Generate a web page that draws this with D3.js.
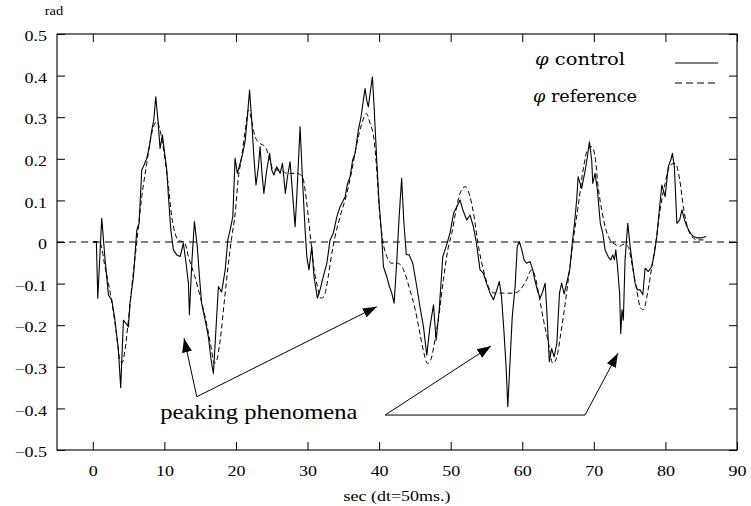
<!DOCTYPE html>
<html>
<head>
<meta charset="utf-8">
<script src="https://cdn.jsdelivr.net/npm/d3@7"></script>
<style>
  html, body { margin: 0; padding: 0; background: #fff; }
  svg { display: block; }
</style>
</head>
<body>
<div id="chart"></div>
<script>
// ---------------- data ----------------
const controlT = [0.0,0.5,0.7,1.25,1.72,2.18,2.65,3.1,3.58,3.9,4.28,4.65,4.98,5.2,5.68,6.15,6.47,6.84,7.17,7.54,7.9,8.24,8.52,8.8,9.1,9.4,9.73,10.0,10.34,10.57,10.9,11.26,11.73,12.2,12.66,13.03,13.36,13.5,13.83,14.2,14.6,14.9,15.2,15.7,16.15,16.5,16.85,17.2,17.55,18.0,18.5,18.86,19.2,19.56,19.88,20.2,20.58,20.95,21.3,21.6,21.9,22.2,22.5,22.8,23.14,23.37,23.6,23.9,24.3,24.7,25.0,25.3,25.7,26.17,26.5,26.9,27.2,27.56,27.8,28.26,28.5,28.96,29.3,29.66,29.9,30.2,30.6,30.9,31.38,31.75,32.2,32.7,33.15,33.6,34.1,34.55,35.25,35.6,35.95,36.3,36.65,37.1,37.48,37.8,38.04,38.27,38.5,38.74,39.06,39.3,39.67,40.0,40.37,40.6,41.07,41.44,41.77,42.1,42.45,42.8,43.15,43.45,43.8,44.2,44.7,45.26,45.7,46.2,46.66,47.1,47.6,47.96,48.4,48.9,49.36,49.9,50.4,50.85,51.3,51.7,52.25,52.7,53.17,53.6,54.1,54.55,55.0,55.5,55.97,56.44,56.8,57.1,57.46,57.74,57.98,58.3,58.6,59.0,59.3,59.6,59.93,60.26,60.6,61.1,61.47,61.8,62.17,62.5,62.86,63.2,63.4,63.78,64.1,64.45,64.83,65.2,65.5,65.85,66.2,66.65,67.0,67.3,67.6,67.8,68.3,68.8,69.1,69.38,69.7,69.85,70.17,70.5,70.9,71.25,71.57,72.0,72.37,72.64,72.87,73.07,73.3,73.6,73.76,73.94,74.12,74.36,74.74,75.07,75.44,75.76,76.1,76.46,76.84,77.16,77.6,78.1,78.46,78.8,79.1,79.5,79.96,80.4,80.75,80.97,81.25,81.6,82.0,82.3,82.67,83.0,83.5,83.9,84.4,85.1,85.7];
const controlV = [0,0,-0.135,0.057,-0.043,-0.127,-0.139,-0.188,-0.26,-0.35,-0.188,-0.196,-0.204,-0.147,-0.083,0.029,0.045,0.173,0.185,0.201,0.229,0.269,0.293,0.349,0.293,0.225,0.257,0.219,0.173,0.109,0.029,-0.019,-0.031,-0.035,-0.003,-0.051,-0.099,-0.175,-0.051,0.049,-0.011,-0.083,-0.147,-0.188,-0.228,-0.28,-0.316,-0.212,-0.107,-0.12,-0.067,0.005,0.03,0.061,0.201,0.165,0.189,0.213,0.245,0.301,0.365,0.293,0.205,0.137,0.181,0.229,0.173,0.117,0.173,0.213,0.173,0.161,0.181,0.165,0.189,0.117,0.157,0.193,0.141,0.037,0.109,0.277,0.149,0.029,-0.035,-0.067,-0.011,-0.083,-0.135,-0.115,-0.083,-0.051,0.005,0.021,0.061,0.085,0.109,0.141,0.157,0.197,0.213,0.269,0.301,0.341,0.369,0.341,0.325,0.357,0.397,0.325,0.197,0.093,0.013,-0.059,-0.083,-0.107,-0.123,-0.147,-0.051,0.061,0.153,0.05,-0.03,-0.031,-0.051,-0.107,-0.155,-0.204,-0.272,-0.204,-0.151,-0.236,-0.163,-0.035,-0.011,0.021,0.069,0.085,0.101,0.077,0.053,0.065,0.037,-0.003,-0.067,-0.075,-0.099,-0.123,-0.139,-0.115,-0.095,-0.131,-0.22,-0.3,-0.396,-0.284,-0.18,-0.107,-0.011,0.001,-0.019,-0.043,-0.051,-0.047,-0.067,-0.095,-0.119,-0.135,-0.119,-0.099,-0.155,-0.288,-0.256,-0.276,-0.244,-0.123,-0.099,-0.125,-0.099,-0.065,0.0,0.045,0.101,0.157,0.129,0.173,0.205,0.241,0.197,0.141,0.165,0.125,0.045,0.021,-0.019,-0.035,-0.043,-0.031,-0.043,-0.019,-0.059,-0.123,-0.22,-0.163,-0.188,-0.043,0.045,-0.011,-0.059,-0.099,-0.115,-0.115,-0.127,-0.063,-0.071,-0.059,-0.027,0.013,0.069,0.137,0.109,0.181,0.197,0.213,0.181,0.045,0.053,0.077,0.053,0.037,0.021,0.013,0.01,0.01,0.013];

const refT = [0,0.8,1.2,1.6,2.2,2.8,3.3,3.8,4.1,4.5,4.9,5.45,6.15,6.84,7.54,8.0,8.47,8.94,9.4,9.96,10.57,11.03,11.5,12.0,12.8,13.36,14.2,15.0,15.9,16.6,16.95,17.3,17.8,18.35,18.95,19.4,19.9,20.3,20.8,21.3,21.74,22.07,22.67,23.37,24.07,24.77,25.2,26.2,27.1,28.5,29.3,29.66,30.0,30.45,30.8,31.38,31.85,32.3,32.9,33.4,33.85,34.55,35.5,36.2,36.9,37.6,38.2,38.74,39.3,39.67,40.0,40.5,41.07,41.77,42.45,43.0,43.6,44.3,45.05,45.7,46.28,46.75,47.2,47.8,48.4,48.98,49.6,50.15,50.75,51.3,52.0,52.7,53.27,53.73,54.35,54.95,55.5,56.2,57.4,58.8,59.7,60.6,61.3,61.8,62.27,62.97,63.67,64.27,64.83,65.38,65.98,66.6,67.17,67.84,68.5,69.2,69.7,70.17,70.6,71.1,71.7,72.27,72.9,73.6,74.2,74.8,75.3,75.9,76.46,76.9,77.5,78.1,78.7,79.25,79.96,80.66,81.36,82.0,82.5,83.06,83.7,84.5,85.7];
const refV = [0,0,-0.01,-0.05,-0.1,-0.16,-0.22,-0.284,-0.29,-0.26,-0.2,-0.107,0.0,0.109,0.189,0.24,0.277,0.289,0.269,0.213,0.133,0.061,0.021,0.003,0.0,-0.035,-0.08,-0.131,-0.196,-0.26,-0.292,-0.285,-0.236,-0.147,-0.051,0.01,0.07,0.149,0.205,0.269,0.317,0.301,0.253,0.237,0.229,0.197,0.173,0.173,0.165,0.165,0.157,0.125,0.077,0.005,-0.051,-0.107,-0.135,-0.131,-0.083,-0.027,0.013,0.061,0.117,0.173,0.237,0.285,0.309,0.285,0.245,0.173,0.085,0.005,-0.035,-0.051,-0.051,-0.055,-0.075,-0.115,-0.163,-0.22,-0.268,-0.292,-0.284,-0.236,-0.171,-0.091,-0.019,0.021,0.077,0.117,0.133,0.109,0.061,0.005,-0.051,-0.091,-0.115,-0.123,-0.123,-0.123,-0.115,-0.091,-0.067,-0.083,-0.123,-0.188,-0.244,-0.292,-0.276,-0.22,-0.15,-0.067,0.01,0.09,0.173,0.225,0.229,0.205,0.133,0.077,0.029,0.005,-0.005,-0.01,-0.005,-0.011,-0.051,-0.107,-0.155,-0.163,-0.123,-0.059,0.005,0.077,0.141,0.185,0.189,0.149,0.085,0.037,0.013,0.005,0.005];

const xTicks = [0,10,20,30,40,50,60,70,80,90];
const yTicks = [-0.5,-0.4,-0.3,-0.2,-0.1,0,0.1,0.2,0.3,0.4,0.5];
const seriesNames = ["control", "reference"];

// annotation: arrows (data coordinates) and label
const arrowCorners = [[14.53,-0.372],[40.84,-0.416],[68.77,-0.416]];
const arrowTips = [[12.75,-0.2315],[39.68,-0.1555],[55.64,-0.25],[73.36,-0.2675]];
const annotText = "peaking phenomena";

// ---------------- layout ----------------
const W = 751, H = 506;
const margin = {left: 57, right: 14, top: 34, bottom: 56};
const iw = W - margin.left - margin.right;
const ih = H - margin.top - margin.bottom;
const SX = 1.2; // horizontal stretch of the text in the reference

const svg = d3.select("#chart").append("svg")
  .attr("width", W).attr("height", H)
  .style("background", "#fff");

svg.append("defs").append("marker")
  .attr("id", "ah").attr("markerUnits", "userSpaceOnUse")
  .attr("viewBox", "0 0 14 10").attr("refX", 14).attr("refY", 5)
  .attr("markerWidth", 14).attr("markerHeight", 10).attr("orient", "auto")
  .append("path").attr("d", "M0,0 L14,5 L0,10 Z").attr("fill", "#000");

const g = svg.append("g").attr("transform", `translate(${margin.left},${margin.top})`);

const x = d3.scaleLinear().domain([-5, 90]).range([0, iw]);
const y = d3.scaleLinear().domain([-0.5, 0.5]).range([ih, 0]);

const serif = "'Liberation Serif','Times New Roman',Times,serif";
const fmt = d => d === 0 ? "0" : d3.format(".1f")(d).replace("-", "\u2212");

// axes
const gl = g.append("g").call(d3.axisLeft(y).tickValues(yTicks).tickSize(-8).tickPadding(0).tickFormat(fmt));
const gb = g.append("g").attr("transform", `translate(0,${ih})`)
  .call(d3.axisBottom(x).tickValues(xTicks).tickSize(-8).tickPadding(15).tickFormat(d3.format("d")));
const gt = g.append("g").call(d3.axisTop(x).tickValues(xTicks).tickSize(-8).tickFormat(""));
const gr = g.append("g").attr("transform", `translate(${iw},0)`)
  .call(d3.axisRight(y).tickValues(yTicks).tickSize(-8).tickFormat(""));

[gl, gb, gt, gr].forEach(a => {
  a.select(".domain").remove();
  a.selectAll(".tick line").attr("stroke", "#000").attr("stroke-width", 1);
});
gl.selectAll(".tick text")
  .attr("x", -10 / SX).attr("dy", "0.45em")
  .attr("transform", `scale(${SX},1)`)
  .style("font-family", serif).style("font-size", "15px").attr("fill", "#000");
gb.selectAll(".tick text")
  .attr("transform", `scale(${SX},1)`)
  .style("font-family", serif).style("font-size", "15px").attr("fill", "#000");

// frame
g.append("rect").attr("width", iw).attr("height", ih)
  .attr("fill", "none").attr("stroke", "#000").attr("stroke-width", 1.1);

// zero line
g.append("line")
  .attr("x1", x(-5)).attr("x2", x(90)).attr("y1", y(0)).attr("y2", y(0))
  .attr("stroke", "#000").attr("stroke-width", 1).attr("stroke-dasharray", "7,5");

// curves
const controlData = controlT.map((t, i) => [t, controlV[i]]);
const refData = refT.map((t, i) => [t, refV[i]]);

g.append("path").datum(refData)
  .attr("fill", "none").attr("stroke", "#000").attr("stroke-width", 1)
  .attr("stroke-dasharray", "5,3")
  .attr("d", d3.line().x(d => x(d[0])).y(d => y(d[1])).curve(d3.curveMonotoneX));

g.append("path").datum(controlData)
  .attr("fill", "none").attr("stroke", "#000").attr("stroke-width", 1.1)
  .attr("stroke-linejoin", "round")
  .attr("d", d3.line().x(d => x(d[0])).y(d => y(d[1])));

// annotations
const segs = [
  [arrowCorners[0], arrowTips[0]],
  [arrowCorners[0], arrowTips[1]],
  [arrowCorners[1], arrowTips[2]],
  [arrowCorners[2], arrowTips[3]]
];
segs.forEach(([a, b]) => {
  g.append("line")
    .attr("x1", x(a[0])).attr("y1", y(a[1]))
    .attr("x2", x(b[0])).attr("y2", y(b[1]))
    .attr("stroke", "#000").attr("stroke-width", 1)
    .attr("marker-end", "url(#ah)");
});
g.append("line")
  .attr("x1", x(arrowCorners[1][0])).attr("y1", y(arrowCorners[1][1]))
  .attr("x2", x(arrowCorners[2][0])).attr("y2", y(arrowCorners[2][1]))
  .attr("stroke", "#000").attr("stroke-width", 1);

g.append("text")
  .attr("transform", `translate(${x(9.43)},${y(-0.426)}) scale(1.17,1)`)
  .style("font-family", serif).style("font-size", "21px").attr("fill", "#000")
  .text(annotText);

// legend
const legFont = "'DejaVu Serif','Liberation Serif',serif";
const legRows = [
  {name: seriesNames[0], tx: 535 - margin.left, ty: 65 - margin.top, ly: 63 - margin.top, w: 90, dash: null},
  {name: seriesNames[1], tx: 533 - margin.left, ty: 102 - margin.top, ly: 83 - margin.top, w: 104, dash: "7,4"}
];
legRows.forEach(r => {
  const t = g.append("text").attr("x", r.tx).attr("y", r.ty)
    .attr("textLength", r.w).attr("lengthAdjust", "spacingAndGlyphs")
    .style("font-family", legFont).style("font-size", "16px").attr("fill", "#000");
  t.append("tspan").style("font-style", "italic").text("\u03C6");
  t.append("tspan").text(" " + r.name);
  g.append("line").attr("x1", 675 - margin.left).attr("x2", 718 - margin.left)
    .attr("y1", r.ly).attr("y2", r.ly)
    .attr("stroke", "#000").attr("stroke-width", 1)
    .attr("stroke-dasharray", r.dash);
});

// axis titles
svg.append("text")
  .attr("transform", `translate(54,15) scale(${SX},1)`)
  .attr("text-anchor", "middle")
  .style("font-family", serif).style("font-size", "12px").attr("fill", "#000")
  .text("rad");
svg.append("text")
  .attr("transform", `translate(397,501) scale(${SX},1)`)
  .attr("text-anchor", "middle")
  .style("font-family", serif).style("font-size", "15px").attr("fill", "#000")
  .text("sec (dt=50ms.)");
</script>
</body>
</html>
